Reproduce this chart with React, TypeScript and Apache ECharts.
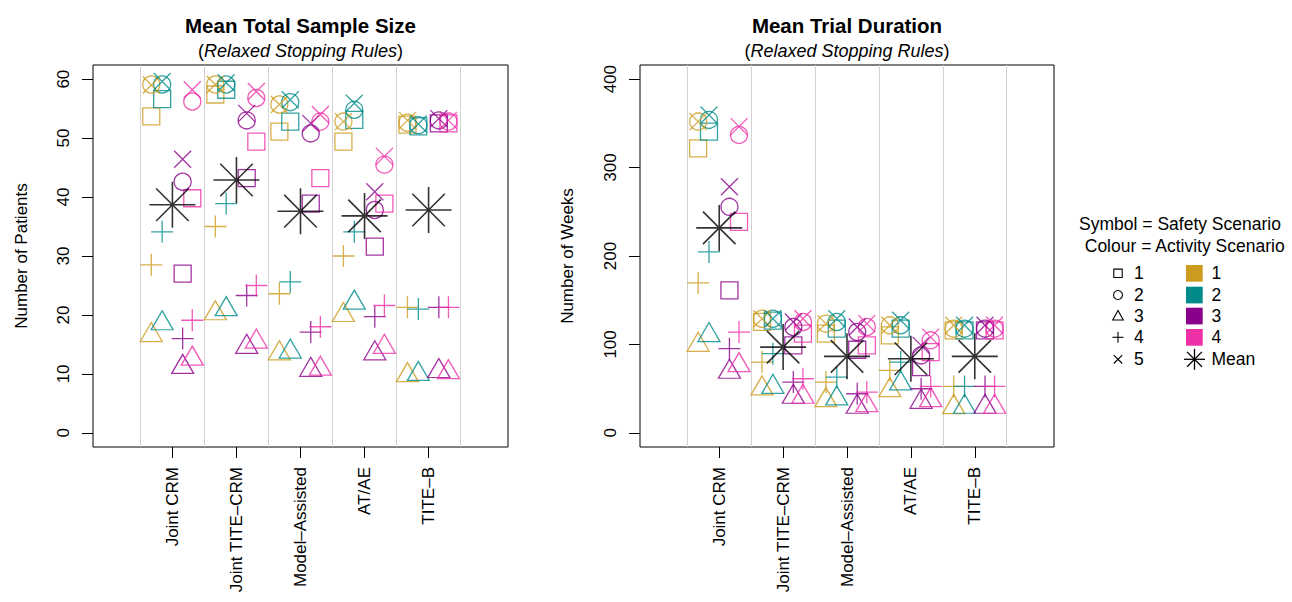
import React, { useEffect, useRef } from 'react';
import * as echarts from 'echarts';

// ---------- data ----------
const designs = ['Joint CRM', 'Joint TITE–CRM', 'Model–Assisted', 'AT/AE', 'TITE–B'];
const designPositions = [1, 2, 3, 4, 5];
const designBoundaries = [0.5, 1.5, 2.5, 3.5, 4.5, 5.5];
const activityColours = ['#CD9B1D', '#008B8B', '#8B008B', '#EE30A7'];
const activityOffsets = [-0.33, -0.16, 0.16, 0.31];
const activityLabels = ['1', '2', '3', '4'];
const safetyLabels = ['1', '2', '3', '4', '5'];
const sizeTicks = [0, 10, 20, 30, 40, 50, 60];
const weekTicks = [0, 100, 200, 300, 400];

// Mean total sample size: rows = design, columns = activity scenario 1..4
const sizeSafety1 = [
  [53.7, 56.6, 27.0, 39.8],
  [57.4, 58.2, 43.2, 49.4],
  [51.1, 52.8, 38.9, 43.2],
  [49.4, 53.1, 31.6, 38.9],
  [52.3, 52.0, 52.5, 52.5],
];
const sizeSafety2 = [
  [59.1, 59.1, 42.6, 56.2],
  [59.1, 59.1, 53.0, 56.8],
  [55.7, 56.1, 50.8, 52.8],
  [52.8, 54.8, 37.8, 45.5],
  [52.6, 52.2, 53.0, 52.8],
];
const sizeSafety3 = [
  [17.1, 19.1, 11.7, 13.1],
  [20.8, 21.5, 15.1, 16.0],
  [14.0, 14.3, 11.2, 11.4],
  [20.5, 22.6, 14.0, 15.1],
  [10.3, 10.5, 11.0, 10.8],
];
const sizeSafety4 = [
  [28.5, 34.1, 16.0, 19.1],
  [35.0, 38.9, 23.3, 25.0],
  [23.6, 25.6, 17.1, 18.0],
  [30.0, 34.1, 19.7, 21.6],
  [21.3, 21.0, 21.3, 21.3],
];
const sizeSafety5 = [
  [59.0, 59.6, 46.4, 58.2],
  [59.1, 59.4, 54.2, 57.9],
  [55.7, 56.5, 52.5, 54.0],
  [52.8, 55.9, 40.9, 46.9],
  [53.0, 52.4, 53.3, 53.0],
];
const sizeMean = [38.7, 42.9, 37.6, 36.8, 37.8];

// Mean trial duration (weeks)
const weeksSafety1 = [
  [321.8, 340.6, 161.2, 238.6],
  [125.4, 127.0, 98.9, 112.2],
  [112.2, 117.8, 94.0, 98.9],
  [110.3, 117.8, 74.3, 91.3],
  [116.0, 116.0, 116.0, 116.0],
];
const weeksSafety2 = [
  [352.0, 353.9, 255.6, 336.9],
  [129.0, 129.0, 119.7, 125.4],
  [123.5, 125.4, 114.0, 119.7],
  [121.6, 121.6, 87.6, 104.6],
  [117.8, 117.8, 117.8, 117.8],
];
const weeksSafety3 = [
  [103.0, 114.0, 72.5, 80.0],
  [53.6, 55.5, 44.2, 44.2],
  [40.4, 42.3, 32.9, 34.7],
  [51.7, 59.3, 38.5, 40.4],
  [32.5, 32.9, 32.9, 32.9],
];
const weeksSafety4 = [
  [169.5, 204.6, 95.2, 114.0],
  [80.0, 89.5, 57.4, 61.2],
  [57.4, 63.0, 44.2, 46.0],
  [70.6, 80.0, 49.9, 52.5],
  [52.5, 52.5, 52.5, 52.5],
];
const weeksSafety5 = [
  [352.0, 359.5, 278.3, 346.3],
  [129.0, 129.0, 125.4, 129.0],
  [123.5, 129.0, 119.7, 123.5],
  [121.6, 127.3, 98.9, 108.3],
  [121.6, 121.6, 121.6, 121.6],
];
const weeksMean = [231.8, 97.0, 86.5, 83.8, 86.5];

// ---------- styling ----------
const FONT = '"Liberation Sans", Arial, Helvetica, sans-serif';
const plusPath = 'path://M0,1L2,1M1,0L1,2';
const crossPath = 'path://M0,0L2,2M2,0L0,2';
const starPath = 'path://M0,1L2,1M1,0L1,2M0.293,0.293L1.707,1.707M1.707,0.293L0.293,1.707';
const safetySymbols: any[] = ['rect', 'circle', 'triangle', plusPath, crossPath];
const safetySizes: any[] = [17, 17, [22, 19], 22, 17];

function buildSeries(gi: number, sets: number[][][], means: number[]) {
  const out: any[] = [];
  let first = true;
  sets.forEach((set, s) => {
    activityColours.forEach((col, a) => {
      const ser: any = {
        type: 'scatter',
        xAxisIndex: gi,
        yAxisIndex: gi,
        symbol: safetySymbols[s],
        symbolSize: safetySizes[s],
        silent: true,
        emphasis: { disabled: true },
        itemStyle: { color: 'transparent', borderColor: col, borderWidth: 1.3, opacity: 0.8 },
        data: designPositions.map((p, i) => [p + activityOffsets[a], set[i][a]]),
        z: 3,
      };
      if (first) {
        ser.markLine = {
          silent: true,
          symbol: ['none', 'none'],
          label: { show: false },
          animation: false,
          lineStyle: { color: '#d3d3d3', width: 1, type: 'solid' },
          data: designBoundaries.map((b) => ({ xAxis: b })),
          z: 1,
        };
        first = false;
      }
      out.push(ser);
    });
  });
  out.push({
    type: 'scatter',
    xAxisIndex: gi,
    yAxisIndex: gi,
    symbol: starPath,
    symbolSize: 46,
    silent: true,
    emphasis: { disabled: true },
    itemStyle: { color: 'transparent', borderColor: '#000', borderWidth: 1.6 },
    data: designPositions.map((p, i) => [p, means[i]]),
    z: 4,
  });
  return out;
}

function xAxis(gi: number) {
  return {
    type: 'value',
    gridIndex: gi,
    min: -0.24,
    max: 6.24,
    axisLine: { show: false, onZero: false },
    splitLine: { show: false },
    axisTick: { show: true, customValues: designPositions, length: 11, lineStyle: { color: '#000', width: 1 } },
    axisLabel: {
      customValues: designPositions,
      formatter: (v: number) => designs[Math.round(v) - 1],
      rotate: 90,
      margin: 20,
      fontSize: 17,
      color: '#000',
      fontFamily: FONT,
    },
  };
}

function yAxis(gi: number, ticks: number[]) {
  const top = ticks[ticks.length - 1];
  const pad = top * 0.04;
  return {
    type: 'value',
    gridIndex: gi,
    min: -pad,
    max: top + pad,
    axisLine: { show: false, onZero: false },
    splitLine: { show: false },
    axisTick: { show: true, customValues: ticks, length: 11, lineStyle: { color: '#000', width: 1 } },
    axisLabel: {
      customValues: ticks,
      formatter: (v: number) => String(Math.round(v)),
      rotate: 90,
      margin: 21,
      fontSize: 17,
      color: '#000',
      fontFamily: FONT,
    },
  };
}

function legendGraphics() {
  const els: any[] = [];
  const rows = [273.3, 295, 316, 337.3, 359.3];
  const sx = 1118;
  const lw = 1.1;
  els.push({ type: 'text', style: { text: 'Symbol = Safety Scenario', x: 1180, y: 224, fontSize: 17.5, fontFamily: FONT, fill: '#000', align: 'center', verticalAlign: 'middle' } });
  els.push({ type: 'text', style: { text: 'Colour = Activity Scenario', x: 1184.7, y: 246, fontSize: 17.5, fontFamily: FONT, fill: '#000', align: 'center', verticalAlign: 'middle' } });
  const st = { stroke: '#000', fill: 'none', lineWidth: lw };
  els.push({ type: 'rect', shape: { x: sx - 4.2, y: rows[0] - 4.2, width: 8.4, height: 8.4 }, style: st });
  els.push({ type: 'circle', shape: { cx: sx, cy: rows[1], r: 4.5 }, style: st });
  els.push({ type: 'polygon', shape: { points: [[sx, rows[2] - 5.5], [sx - 5.3, rows[2] + 4], [sx + 5.3, rows[2] + 4]] }, style: st });
  els.push({ type: 'line', shape: { x1: sx - 5.5, y1: rows[3], x2: sx + 5.5, y2: rows[3] }, style: st });
  els.push({ type: 'line', shape: { x1: sx, y1: rows[3] - 5.5, x2: sx, y2: rows[3] + 5.5 }, style: st });
  els.push({ type: 'line', shape: { x1: sx - 4.2, y1: rows[4] - 4.2, x2: sx + 4.2, y2: rows[4] + 4.2 }, style: st });
  els.push({ type: 'line', shape: { x1: sx + 4.2, y1: rows[4] - 4.2, x2: sx - 4.2, y2: rows[4] + 4.2 }, style: st });
  safetyLabels.forEach((t, i) => {
    els.push({ type: 'text', style: { text: t, x: 1134, y: rows[i], fontSize: 17.5, fontFamily: FONT, fill: '#000', align: 'left', verticalAlign: 'middle' } });
  });
  activityColours.forEach((c, i) => {
    els.push({ type: 'rect', shape: { x: 1186, y: rows[i] - 8.3, width: 16.7, height: 16.7 }, style: { fill: c, stroke: 'none' } });
    els.push({ type: 'text', style: { text: activityLabels[i], x: 1211.5, y: rows[i], fontSize: 17.5, fontFamily: FONT, fill: '#000', align: 'left', verticalAlign: 'middle' } });
  });
  const cx = 1194.5;
  const cy = rows[4];
  const r = 10.5;
  const d = r * 0.707;
  const ss = { stroke: '#000', lineWidth: 1.3 };
  els.push({ type: 'line', shape: { x1: cx - r, y1: cy, x2: cx + r, y2: cy }, style: ss });
  els.push({ type: 'line', shape: { x1: cx, y1: cy - r, x2: cx, y2: cy + r }, style: ss });
  els.push({ type: 'line', shape: { x1: cx - d, y1: cy - d, x2: cx + d, y2: cy + d }, style: ss });
  els.push({ type: 'line', shape: { x1: cx + d, y1: cy - d, x2: cx - d, y2: cy + d }, style: ss });
  els.push({ type: 'text', style: { text: 'Mean', x: 1211.5, y: cy, fontSize: 17.5, fontFamily: FONT, fill: '#000', align: 'left', verticalAlign: 'middle' } });
  return els;
}

function titleGraphics() {
  const els: any[] = [];
  const panels = [
    { cx: 300.5, title: 'Mean Total Sample Size', ylab: 'Number of Patients', yx: 21 },
    { cx: 847, title: 'Mean Trial Duration', ylab: 'Number of Weeks', yx: 567 },
  ];
  panels.forEach((p) => {
    els.push({ type: 'text', style: { text: p.title, x: p.cx, y: 25, fontSize: 20.5, fontWeight: 'bold', fontFamily: FONT, fill: '#000', align: 'center', verticalAlign: 'middle' } });
    els.push({
      type: 'text',
      style: {
        text: '({i|Relaxed Stopping Rules})',
        x: p.cx,
        y: 51,
        fontSize: 18,
        fontFamily: FONT,
        fill: '#000',
        align: 'center',
        verticalAlign: 'middle',
        rich: { i: { fontStyle: 'italic', fontSize: 18, fontFamily: FONT, fill: '#000' } },
      },
    });
    els.push({ type: 'text', x: p.yx, y: 256, rotation: Math.PI / 2, style: { text: p.ylab, x: 0, y: 0, fontSize: 17, fontFamily: FONT, fill: '#000', align: 'center', verticalAlign: 'middle' } });
  });
  return els;
}

export default function App() {
  const ref = useRef<HTMLDivElement>(null);
  useEffect(() => {
    if (!ref.current) return;
    const chart = echarts.init(ref.current, undefined, { renderer: 'svg' });
    const option: any = {
      animation: false,
      backgroundColor: '#fff',
      grid: [
        { left: 93, top: 65, width: 415, height: 382, show: true, borderColor: '#000', borderWidth: 1, backgroundColor: 'transparent' },
        { left: 640, top: 65, width: 414, height: 382, show: true, borderColor: '#000', borderWidth: 1, backgroundColor: 'transparent' },
      ],
      xAxis: [xAxis(0), xAxis(1)],
      yAxis: [yAxis(0, sizeTicks), yAxis(1, weekTicks)],
      series: [
        ...buildSeries(0, [sizeSafety1, sizeSafety2, sizeSafety3, sizeSafety4, sizeSafety5], sizeMean),
        ...buildSeries(1, [weeksSafety1, weeksSafety2, weeksSafety3, weeksSafety4, weeksSafety5], weeksMean),
      ],
      graphic: [...titleGraphics(), ...legendGraphics()],
    };
    chart.setOption(option);
    return () => chart.dispose();
  }, []);
  return <div ref={ref} style={{ position: 'fixed', left: 0, top: 0, width: 1292, height: 602 }} />;
}
